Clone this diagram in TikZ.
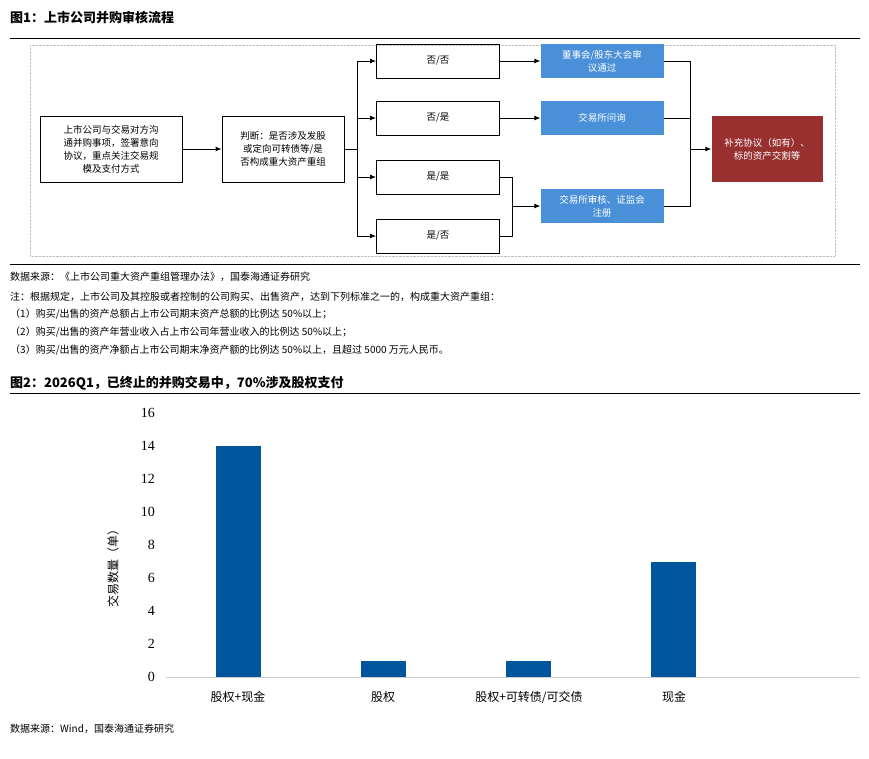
\documentclass[tikz,border=0pt]{standalone}
\usepackage{fontspec}
\setmainfont{Liberation Serif}
\newfontfamily\cjk{Noto Sans CJK SC}
\usetikzlibrary{arrows.meta}
\definecolor{bluebox}{HTML}{4A90D9}
\definecolor{redbox}{HTML}{983030}
\definecolor{barblue}{HTML}{00569D}
\tikzset{
 wbox/.style={draw,line width=0.9pt,minimum width=123pt,minimum height=34pt,inner sep=2pt,font=\cjk\fontsize{9.5}{13}\selectfont,align=center},
 bbox/.style={fill=bluebox,minimum width=123pt,minimum height=34pt,inner sep=2pt,text=white,font=\cjk\fontsize{9.5}{13}\selectfont,align=center},
 arr/.style={line width=0.9pt,-{Latex[length=6pt,width=5pt]}},
 ln/.style={line width=0.9pt},
 bar/.style={fill=barblue},
 txt/.style={anchor=west,inner sep=0pt,font=\cjk\fontsize{10}{12}\selectfont},
 ttl/.style={anchor=west,inner sep=0pt,font=\cjk\bfseries\fontsize{13}{15}\selectfont},
 tick/.style={anchor=east,inner sep=0pt,font=\fontsize{14}{15}\selectfont},
 cat/.style={inner sep=0pt,font=\cjk\fontsize{12}{14}\selectfont}
}
\begin{document}
\begin{tikzpicture}[x=1pt,y=-1pt]
\useasboundingbox (0,0) rectangle (869,758);
\node[ttl] (t1) at (10,18) {图1：上市公司并购审核流程};
\draw[line width=1pt] (10,38) -- (860,38);
\draw[gray!50,densely dotted] (30,45) rectangle (835,256);
\draw[line width=1pt] (10,264) -- (860,264);
\node[wbox,minimum width=142pt,minimum height=66pt] (a) at (111,149) {上市公司与交易对方沟\\通并购事项，签署意向\\协议，重点关注交易规\\模及支付方式};
\node[wbox,minimum width=122pt,minimum height=66pt] (b) at (283,149) {判断：是否涉及发股\\或定向可转债等/是\\否构成重大资产重组};
\node[wbox] (n1) at (438,61) {否/否};
\node[wbox] (n2) at (438,118) {否/是};
\node[wbox] (n3) at (438,177) {是/是};
\node[wbox] (n4) at (438,236) {是/否};
\node[bbox] (b1) at (602,61) {董事会/股东大会审\\议通过};
\node[bbox] (b2) at (602,118) {交易所问询};
\node[bbox] (b3) at (602,206) {交易所审核、证监会\\注册};
\node[fill=redbox,minimum width=111pt,minimum height=66pt,text=white,font=\cjk\fontsize{9.5}{13}\selectfont,align=center] (r) at (767,149) {补充协议（如有）、\\标的资产交割等};
\coordinate (s) at (357,149);
\draw[arr] (a) -- (b);
\draw[ln] (b) -- (s);
\draw[arr] (s) |- (n1);
\draw[arr] (s) |- (n2);
\draw[arr] (s) |- (n3);
\draw[arr] (s) |- (n4);
\draw[arr] (n1) -- (b1);
\draw[arr] (n2) -- (b2);
\coordinate (j) at (512,206);
\draw[ln] (n3.east) -| (j);
\draw[ln] (n4.east) -| (j);
\draw[arr] (j) -- (b3);
\coordinate (k) at (690,149);
\draw[ln] (b1.east) -| (k);
\draw[ln] (b2.east) -| (k);
\draw[ln] (b3.east) -| (k);
\draw[arr] (k) -- (r);
\node[txt] (s1) at (10,277) {数据来源：《上市公司重大资产重组管理办法》，国泰海通证券研究};
\node[txt] (s2) at (10,297) {注：根据规定，上市公司及其控股或者控制的公司购买、出售资产，达到下列标准之一的，构成重大资产重组：};
\node[txt] (s3) at (10,314) {（1）购买/出售的资产总额占上市公司期末资产总额的比例达 50\%以上；};
\node[txt] (s4) at (10,332) {（2）购买/出售的资产年营业收入占上市公司年营业收入的比例达 50\%以上；};
\node[txt] (s5) at (10,350) {（3）购买/出售的资产净额占上市公司期末净资产额的比例达 50\%以上，且超过 5000 万元人民币。};
\node[ttl] (t2) at (10,383) {图2：2026Q1，已终止的并购交易中，70\%涉及股权支付};
\draw[line width=1pt] (10,393) -- (860,393);
% chart
\foreach \v in {0,2,...,16} \node[tick] at (155,{677-16.5*\v}) {\v};
\draw[gray!40,line width=0.8pt] (166,677) -- (860,677);
\fill[bar] (216,677) rectangle (261,446);
\fill[bar] (361,677) rectangle (406,660.5);
\fill[bar] (506,677) rectangle (551,660.5);
\fill[bar] (651,677) rectangle (696,561.5);
\node[cat] (c1) at (238,697) {股权+现金};
\node[cat] (c2) at (383,697) {股权};
\node[cat] (c3) at (529,697) {股权+可转债/可交债};
\node[cat] (c4) at (674,697) {现金};
\node[cat,rotate=90] (yl) at (113,565) {交易数量（单）};
\node[txt] (s6) at (10,729) {数据来源：Wind，国泰海通证券研究};
\end{tikzpicture}
\end{document}
